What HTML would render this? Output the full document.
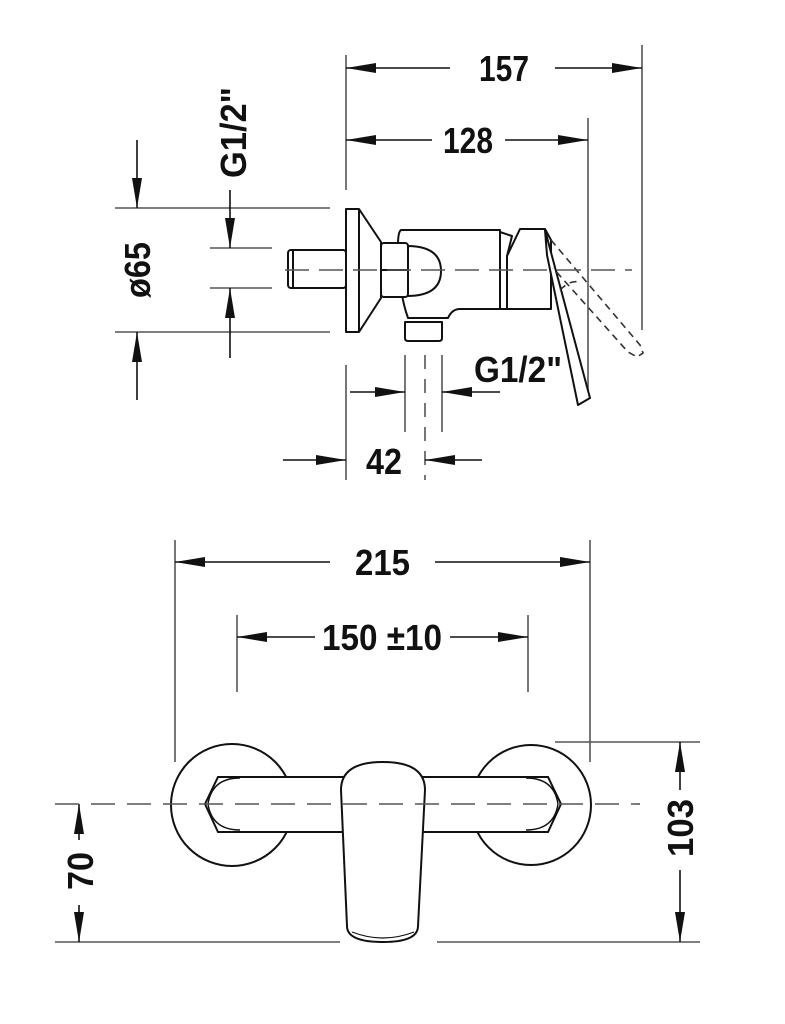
<!DOCTYPE html>
<html><head><style>html,body{margin:0;padding:0;background:#fff}svg{display:block}
text{font-family:"Liberation Sans",sans-serif;font-weight:bold;font-size:36px;fill:#111}</style></head>
<body>
<svg width="785" height="1024" viewBox="0 0 785 1024" xmlns="http://www.w3.org/2000/svg">
<defs>
<marker id="a" viewBox="0 0 30 10" refX="30" refY="5" markerWidth="30" markerHeight="10" markerUnits="userSpaceOnUse" orient="auto"><path d="M0,0L30,5L0,10z" fill="#111"/></marker>
</defs>
<g stroke="#555" stroke-width="1.6" fill="none">
<line x1="346" y1="55" x2="346" y2="190"/>
<line x1="642" y1="45" x2="642" y2="330"/>
<line x1="588" y1="118" x2="588" y2="395"/>
<line x1="115" y1="208" x2="330" y2="208"/>
<line x1="115" y1="332" x2="330" y2="332"/>
<line x1="210" y1="248" x2="272" y2="248"/>
<line x1="210" y1="288" x2="272" y2="288"/>
<line x1="405" y1="355" x2="405" y2="432"/>
<line x1="442" y1="355" x2="442" y2="432"/>
<line x1="425" y1="355" x2="425" y2="480" stroke-dasharray="14,10"/>
<line x1="346" y1="365" x2="346" y2="480"/>
<line x1="175" y1="540" x2="175" y2="762"/>
<line x1="590" y1="540" x2="590" y2="762"/>
<line x1="237" y1="615" x2="237" y2="692"/>
<line x1="528" y1="615" x2="528" y2="692"/>
<line x1="555" y1="742" x2="700" y2="742"/>
<line x1="55" y1="942" x2="340" y2="942"/>
<line x1="437" y1="942" x2="700" y2="942"/>
</g>
<g stroke="#111" stroke-width="1.6" fill="none" marker-end="url(#a)">
<line x1="450" y1="68" x2="346" y2="68"/>
<line x1="555" y1="68" x2="642" y2="68"/>
<line x1="432" y1="140" x2="346" y2="140"/>
<line x1="505" y1="140" x2="588" y2="140"/>
<line x1="137" y1="140" x2="137" y2="208"/>
<line x1="137" y1="400" x2="137" y2="332"/>
<line x1="230" y1="190" x2="230" y2="248"/>
<line x1="230" y1="358" x2="230" y2="288"/>
<line x1="350" y1="392" x2="405" y2="392"/>
<line x1="500" y1="392" x2="442" y2="392"/>
<line x1="283" y1="460" x2="346" y2="460"/>
<line x1="482" y1="460" x2="425" y2="460"/>
<line x1="330" y1="562" x2="175" y2="562"/>
<line x1="435" y1="562" x2="590" y2="562"/>
<line x1="315" y1="637" x2="237" y2="637"/>
<line x1="450" y1="637" x2="528" y2="637"/>
<line x1="680" y1="790" x2="680" y2="742"/>
<line x1="680" y1="870" x2="680" y2="942"/>
<line x1="79" y1="840" x2="79" y2="804"/>
<line x1="79" y1="905" x2="79" y2="942"/>
</g>
<text x="479" y="81" textLength="50" lengthAdjust="spacingAndGlyphs">157</text>
<text x="443" y="153" textLength="50" lengthAdjust="spacingAndGlyphs">128</text>
<text x="474" y="382" textLength="88" lengthAdjust="spacingAndGlyphs">G1/2"</text>
<text x="366" y="474" textLength="36" lengthAdjust="spacingAndGlyphs">42</text>
<text x="355" y="575" textLength="55" lengthAdjust="spacingAndGlyphs">215</text>
<text x="322" y="650" textLength="120" lengthAdjust="spacingAndGlyphs">150 ±10</text>
<text transform="translate(246,178) rotate(-90)" textLength="91" lengthAdjust="spacingAndGlyphs">G1/2"</text>
<text transform="translate(150,298) rotate(-90)" textLength="56" lengthAdjust="spacingAndGlyphs">ø65</text>
<text transform="translate(693,857) rotate(-90)" textLength="58" lengthAdjust="spacingAndGlyphs">103</text>
<text transform="translate(93,890) rotate(-90)" textLength="38" lengthAdjust="spacingAndGlyphs">70</text>
<g stroke="#111" stroke-width="2" fill="#fff" stroke-linejoin="round">
<rect x="288" y="250" width="58" height="38" rx="3"/>
<line x1="293" y1="251" x2="293" y2="287"/>
<path d="M346,209H359L381,242V298L359,332H346Z"/>
<line x1="359" y1="209" x2="359" y2="332"/>
<path d="M405,322H442V338Q442,341 439,341H408Q405,341 405,338Z"/>
<path d="M401,230H500V309H460Q452,309 448,318H408Q398,290 398,245Q398,232 401,230Z"/>
<path d="M407,246Q441,246 441,271Q441,296 407,296Z"/>
<rect x="381" y="243" width="27" height="54" rx="3"/>
<line x1="381" y1="270" x2="408" y2="270"/>
<path d="M500,232L512,236L507,256V309H500Z"/>
<path d="M520,229H545L551,240V309H507V256Z"/>
<path d="M545,230L590,398L578,405L547,255Z"/>
</g>
<g stroke="#333" stroke-width="1.6" fill="none" stroke-dasharray="7,5">
<path d="M551,240L640,345L643,353L637,357L628,352L553,268"/>
<path d="M560,290Q570,280 578,282"/>
</g>
<g stroke="#111" stroke-width="2" fill="#fff">
<circle cx="232" cy="805" r="61"/>
<circle cx="531" cy="805" r="60"/>
<path d="M205,804L218,777H345Q370,770 382,765Q395,770 420,777H548L561,804L548,832H420Q382,838 345,832H218Z"/>
<path d="M208,804Q212,778 240,778M208,804Q212,830 240,830M558,804Q554,778 526,778M558,804Q554,830 526,830" fill="none" stroke-width="1.4"/>
<path d="M341,790Q341,762 383,762Q425,762 425,790L418,926Q418,942 383,942Q347,942 347,926Z"/>
<path d="M352,932Q383,944 414,932" fill="none" stroke-width="1.2"/>
</g>
<g stroke="#555" stroke-width="1.6" fill="none">
<line x1="285" y1="270" x2="632" y2="270" stroke-dasharray="24,10"/>
<line x1="55" y1="804" x2="640" y2="804" stroke-dasharray="24,12"/>
</g>
</svg>
</body></html>
